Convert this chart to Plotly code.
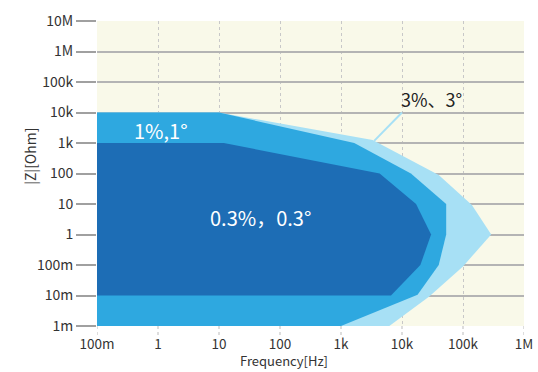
import numpy as np
import plotly.graph_objects as go

# Measurement accuracy regions: frequency [Hz] vs impedance |Z| [Ohm]
freq_3pct = [0.1, 10, 3300, 40000, 140000, 290000, 100000, 28000, 6200, 0.1]
z_3pct = [1e4, 1e4, 1250, 90, 9.3, 1.0, 0.09, 0.0093, 0.001, 0.001]

freq_1pct = [0.1, 10, 1650, 14000, 53000, 53000, 40000, 18000, 1000, 0.1]
z_1pct = [1e4, 1e4, 1000, 100, 10, 1.0, 0.1, 0.0105, 0.001, 0.001]

freq_03pct = [0.1, 12, 4300, 17000, 30000, 20000, 6600, 0.1]
z_03pct = [1000, 1000, 100, 10, 1.0, 0.1, 0.01, 0.01]

# Leader line for the 3% label
leader_freq = [3500, 10000]
leader_z = [1170, 10000]

x_tickvals = [0.1, 1, 10, 100, 1e3, 1e4, 1e5, 1e6]
x_ticktext = ["100m", "1", "10", "100", "1k", "10k", "100k", "1M"]
y_tickvals = [1e-3, 1e-2, 0.1, 1, 10, 100, 1e3, 1e4, 1e5, 1e6, 1e7]
y_ticktext = ["1m", "10m", "100m", "1", "10", "100", "1k", "10k", "100k", "1M", "10M"]

LIGHT = "#a7e0f5"
MID = "#2ea8e0"
DARK = "#1d6db5"
TEXT = "#333333"
FONT = "Noto Sans CJK JP"

fig = go.Figure()
for fx, fy, col in [(freq_3pct, z_3pct, LIGHT), (freq_1pct, z_1pct, MID), (freq_03pct, z_03pct, DARK)]:
    fig.add_trace(go.Scatter(x=fx, y=fy, mode="lines", fill="toself",
                             fillcolor=col, line=dict(width=0, color=col),
                             hoverinfo="skip", showlegend=False))

fig.add_trace(go.Scatter(x=leader_freq, y=leader_z, mode="lines",
                         line=dict(color=LIGHT, width=2),
                         hoverinfo="skip", showlegend=False))

# Dotted tick marks under the frequency axis
for v in x_tickvals:
    fig.add_shape(type="line", xref="x", yref="paper", x0=v, x1=v, y0=0, y1=-0.035,
                  line=dict(color="#bbbbbb", width=1, dash="dot"))

fig.add_annotation(x=np.log10(1.1), y=np.log10(2550), text="1%,1°", showarrow=False,
                   font=dict(family=FONT, size=20, color="white"))
fig.add_annotation(x=np.log10(48), y=np.log10(3.5), text="0.3%，0.3°", showarrow=False,
                   font=dict(family=FONT, size=20, color="white"))
fig.add_annotation(x=np.log10(10000), y=np.log10(27000), text="3%、3°", showarrow=False,
                   xanchor="left", xshift=-3, font=dict(family=FONT, size=18, color="#222222"))

fig.add_annotation(xref="paper", yref="paper", x=(284 - 97) / 427, y=-(371.5 - 326.3) / 305.3,
                   text="Frequency[Hz]", showarrow=False, yanchor="bottom", borderpad=0,
                   font=dict(family=FONT, size=13, color=TEXT))
fig.add_annotation(xref="paper", yref="paper", x=-(97 - 18) / 427, y=(326.3 - 157) / 305.3,
                   text="|Z|[Ohm]", showarrow=False, textangle=-90,
                   font=dict(family=FONT, size=14, color=TEXT))

fig.update_xaxes(type="log", range=[-1, 6], tickvals=x_tickvals, ticktext=x_ticktext,
                 showgrid=True, gridcolor="#c8c8c8", griddash="dot", gridwidth=1,
                 ticks="", ticklabelstandoff=8, zeroline=False, showline=False,
                 automargin=False,
                 tickfont=dict(family=FONT, size=13.5, color=TEXT))
fig.update_yaxes(type="log", range=[-3, 7], tickvals=y_tickvals, ticktext=y_ticktext,
                 showgrid=True, gridcolor="#b4b4b4", gridwidth=1.5,
                 ticks="outside", ticklen=20, tickcolor="#a0a0a0", tickwidth=1.5,
                 zeroline=False, showline=False, automargin=False,
                 tickfont=dict(family=FONT, size=14, color=TEXT))

fig.update_layout(width=538, height=372, margin=dict(l=97, r=14, t=21, b=46),
                  paper_bgcolor="white", plot_bgcolor="#f9f9e9",
                  font=dict(family=FONT, color=TEXT))

fig.write_html("out.html")
